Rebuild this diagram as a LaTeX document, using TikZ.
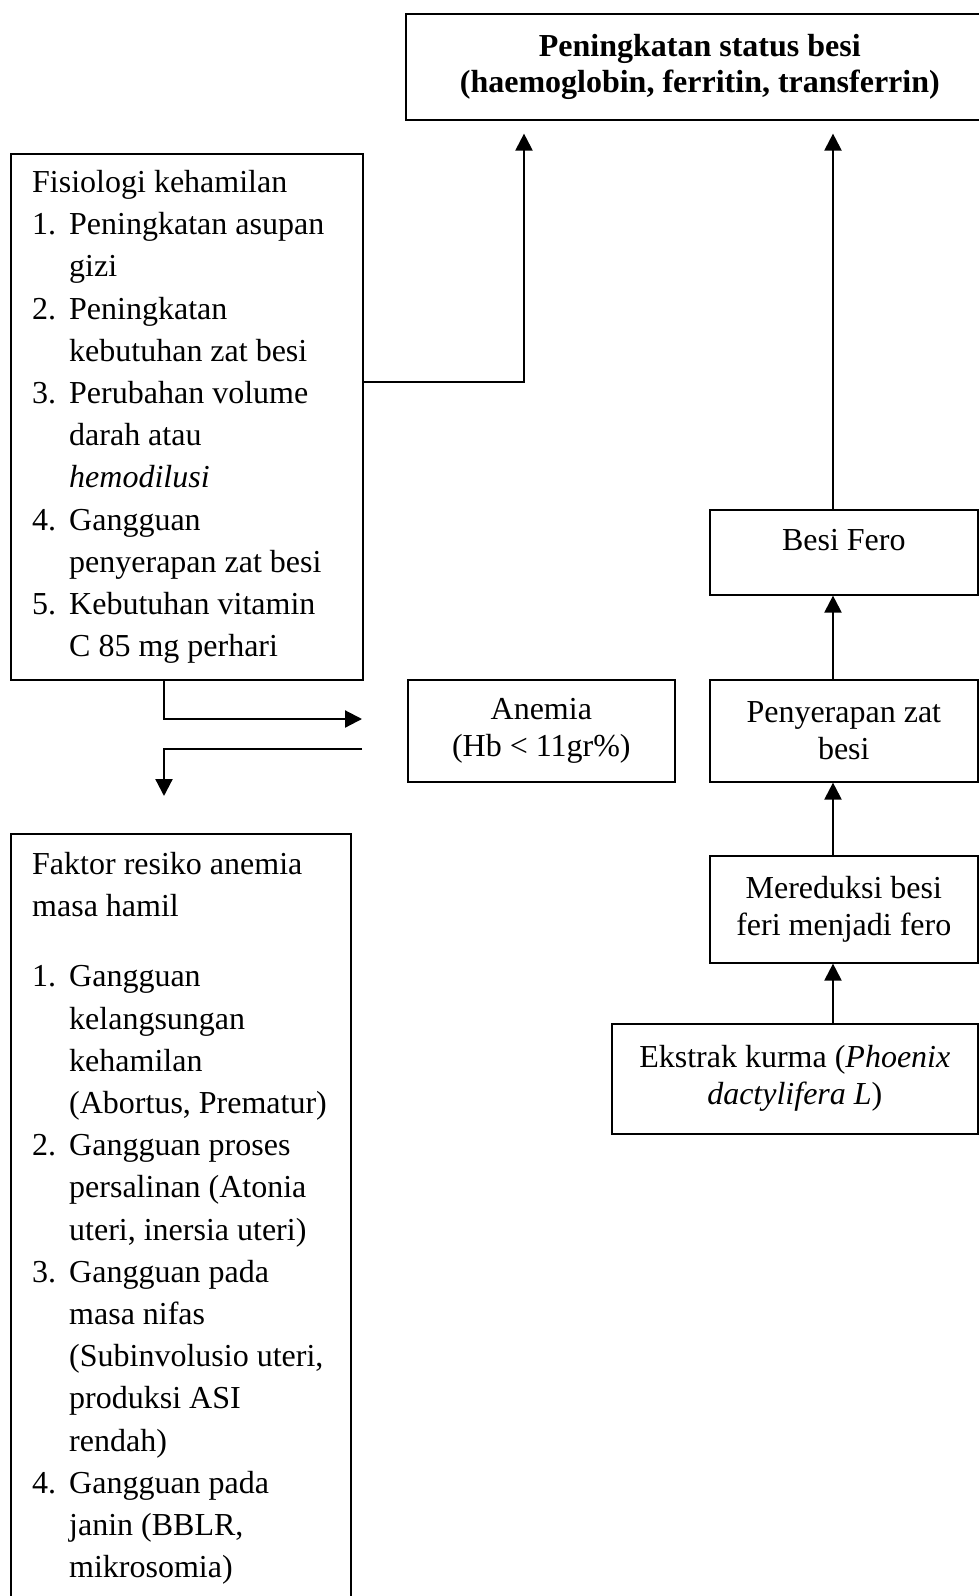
\documentclass[tikz,border=0pt]{standalone}
\usepackage{fontspec}
\setmainfont{Liberation Serif}
\usetikzlibrary{arrows.meta}
\begin{document}
\begin{tikzpicture}[x=1pt,y=-1pt,
  box/.style={draw, line width=1.6pt, rectangle, anchor=north west, inner sep=0pt, align=center, font=\fontsize{32}{37}\selectfont},
  lst/.style={anchor=north west, inner sep=0pt, align=left, font=\fontsize{32}{42.2}\selectfont},
  arr/.style={line width=2.2pt, -{Triangle[length=17pt,width=17pt]}}]
\useasboundingbox (0,0) rectangle (979,1596);
% boxes
\node[box, minimum width=588pt, minimum height=106pt, font=\bfseries\fontsize{32}{36.6}\selectfont] (top) at (405,13)
  {Peningkatan status besi\\(haemoglobin, ferritin, transferrin)};
\node[box, minimum width=352pt, minimum height=526pt] (fis) at (10,153) {};
\node[lst] (fistxt) at (32,170) {\rule{0pt}{22pt}Fisiologi kehamilan\\
\makebox[37pt][l]{1.}Peningkatan asupan\\
\hspace*{37pt}gizi\\
\makebox[37pt][l]{2.}Peningkatan\\
\hspace*{37pt}kebutuhan zat besi\\
\makebox[37pt][l]{3.}Perubahan volume\\
\hspace*{37pt}darah atau\\
\hspace*{37pt}\textit{hemodilusi}\\
\makebox[37pt][l]{4.}Gangguan\\
\hspace*{37pt}penyerapan zat besi\\
\makebox[37pt][l]{5.}Kebutuhan vitamin\\
\hspace*{37pt}C 85 mg perhari};
\node[box, minimum width=340pt, minimum height=800pt] (fak) at (10,833) {};
\node[lst] (faktxt) at (32,852) {\rule{0pt}{22pt}Faktor resiko anemia\\
masa hamil\\[28pt]
\makebox[37pt][l]{1.}Gangguan\\
\hspace*{37pt}kelangsungan\\
\hspace*{37pt}kehamilan\\
\hspace*{37pt}(Abortus, Prematur)\\
\makebox[37pt][l]{2.}Gangguan proses\\
\hspace*{37pt}persalinan (Atonia\\
\hspace*{37pt}uteri, inersia uteri)\\
\makebox[37pt][l]{3.}Gangguan pada\\
\hspace*{37pt}masa nifas\\
\hspace*{37pt}(Subinvolusio uteri,\\
\hspace*{37pt}produksi ASI\\
\hspace*{37pt}rendah)\\
\makebox[37pt][l]{4.}Gangguan pada\\
\hspace*{37pt}janin (BBLR,\\
\hspace*{37pt}mikrosomia)};
\node[box, minimum width=267pt, minimum height=102pt] (anem) at (407,679) {Anemia\\(Hb < 11gr\%)};
\node[box, minimum width=268pt, minimum height=85pt] (fero) at (709,509) {\raisebox{24pt}{Besi Fero}};
\node[box, minimum width=268pt, minimum height=102pt] (peny) at (709,679) {Penyerapan zat\\besi};
\node[box, minimum width=268pt, minimum height=107pt] (mered) at (709,855) {Mereduksi besi\\feri menjadi fero};
\node[box, minimum width=366pt, minimum height=110pt] (ekstrak) at (611,1023) {Ekstrak kurma (\textit{Phoenix}\\\textit{dactylifera L})};
% helper coordinates
\coordinate (cx) at (833,0);
\coordinate (t1) at ([yshift=-13pt]top.south);
\coordinate (j1) at (524,382);
\coordinate (k1) at (164,719);
\coordinate (k2) at (164,749);
\coordinate (aw) at ([xshift=-45pt]anem.west);
\coordinate (fn) at ([yshift=37pt]fak.north);
% connectors
\draw[arr] (ekstrak.north -| cx) -- (mered.south -| cx);
\draw[arr] (mered.north -| cx) -- (peny.south -| cx);
\draw[arr] (peny.north -| cx) -- (fero.south -| cx);
\draw[arr] (fero.north -| cx) -- (t1 -| cx);
\draw[arr] (fis.east |- j1) -| (t1 -| j1);
\draw[arr] (fis.south -| k1) |- (aw |- k1);
\draw[arr] (aw |- k2) -| (fn -| k2);
\end{tikzpicture}
\end{document}
